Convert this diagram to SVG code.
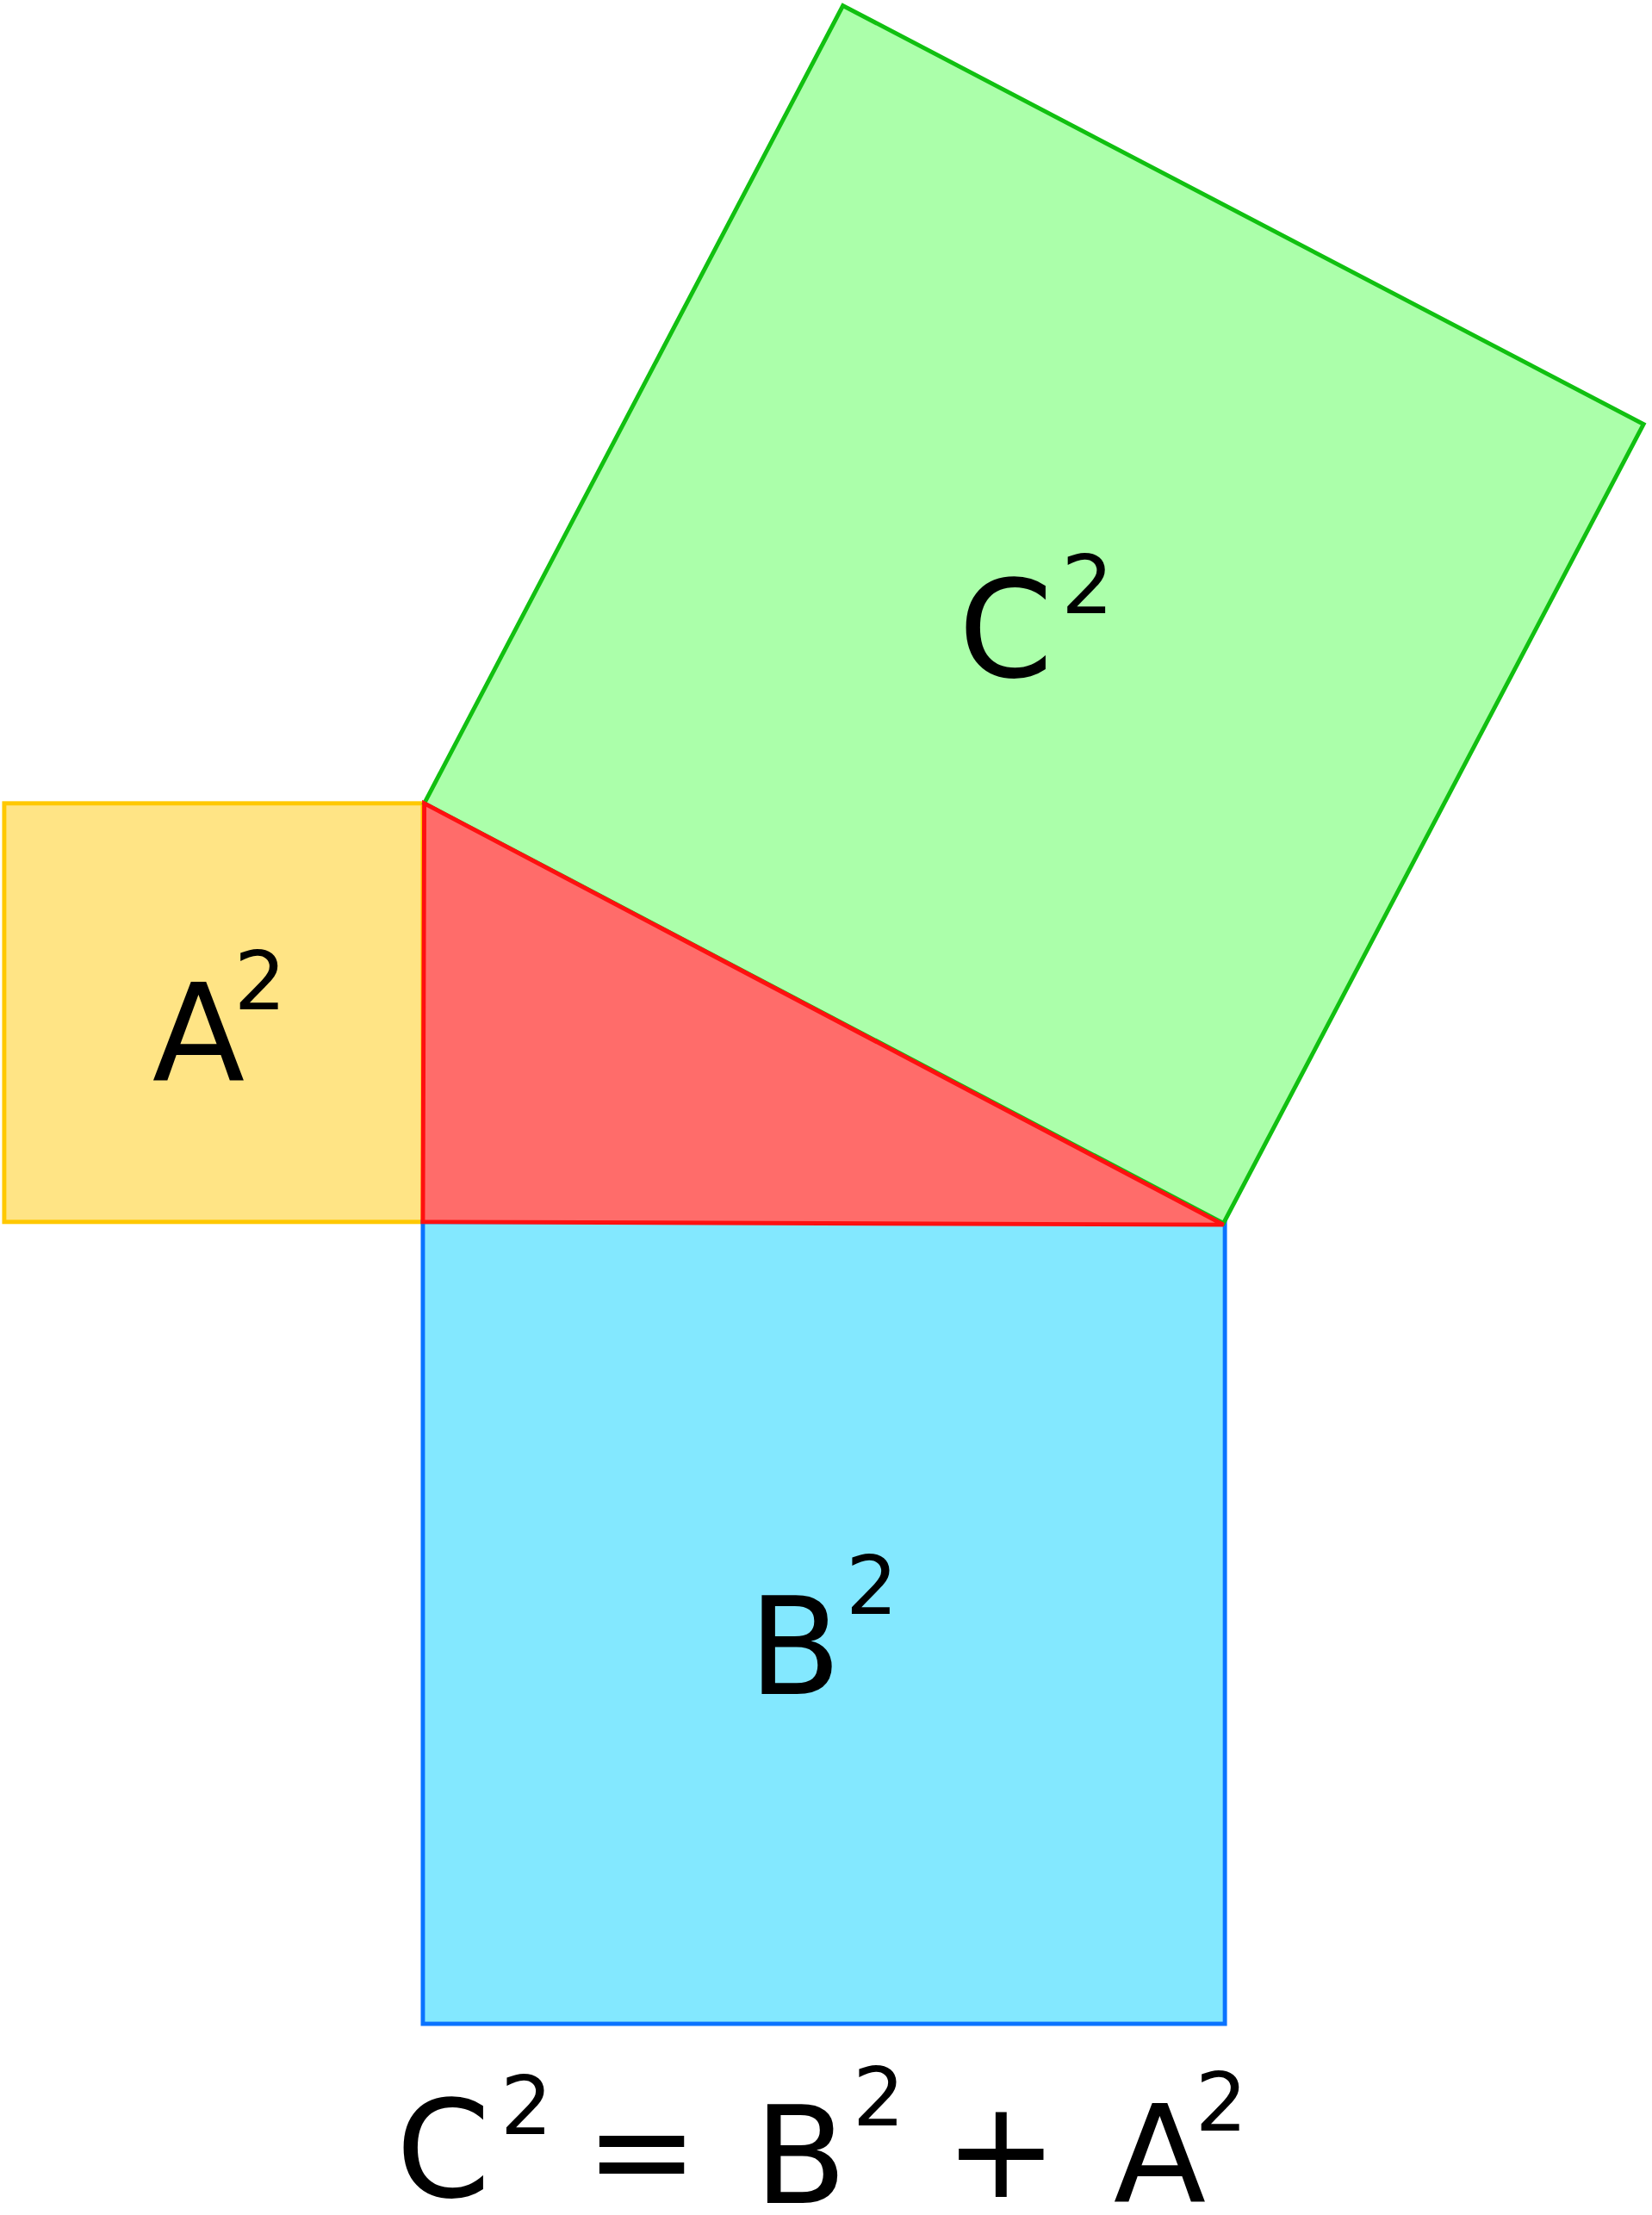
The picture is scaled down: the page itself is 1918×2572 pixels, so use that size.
<svg xmlns="http://www.w3.org/2000/svg" width="1918" height="2572" viewBox="0 0 1918 2572">
<style>
text{font-family:"DejaVu Sans",sans-serif;fill:#000}
.m{font-size:96px}
.s{font-size:58px}
</style>
<rect width="1918" height="2572" fill="#fff"/>
<g transform="scale(1.6365)">
<g id="sqA"><rect x="3" y="570" width="297" height="297" fill="#ffe485" stroke="#ffc800" stroke-width="3"/></g>
<g id="sqB"><rect x="300" y="867" width="569" height="569" fill="#83e8ff" stroke="#0a73ff" stroke-width="3"/></g>
<g id="sqC"><polygon points="301,570 598,4 1166,301 868,868" fill="#abffaa" stroke="#11c011" stroke-width="3"/></g>
<g id="tri"><polygon points="301,570 300,867 868,869" fill="#ff6c6a" stroke="#ff1010" stroke-width="3"/></g>
<g id="labels">
<text class="m" x="108" y="766">A</text><text class="s" x="166" y="716">2</text>
<text class="m" x="680" y="480">C</text><text class="s" x="753" y="435">2</text>
<text class="m" x="531" y="1202">B</text><text class="s" x="600" y="1145">2</text>
<text class="m" x="281" y="1559">C</text><text class="s" x="355" y="1514">2</text>
<text class="m" x="415" y="1559">=</text>
<text class="m" x="535" y="1563">B</text><text class="s" x="605" y="1508">2</text>
<text class="m" x="670" y="1559">+</text>
<text class="m" x="790" y="1562">A</text><text class="s" x="848" y="1512">2</text>
</g>
</g>
</svg>
